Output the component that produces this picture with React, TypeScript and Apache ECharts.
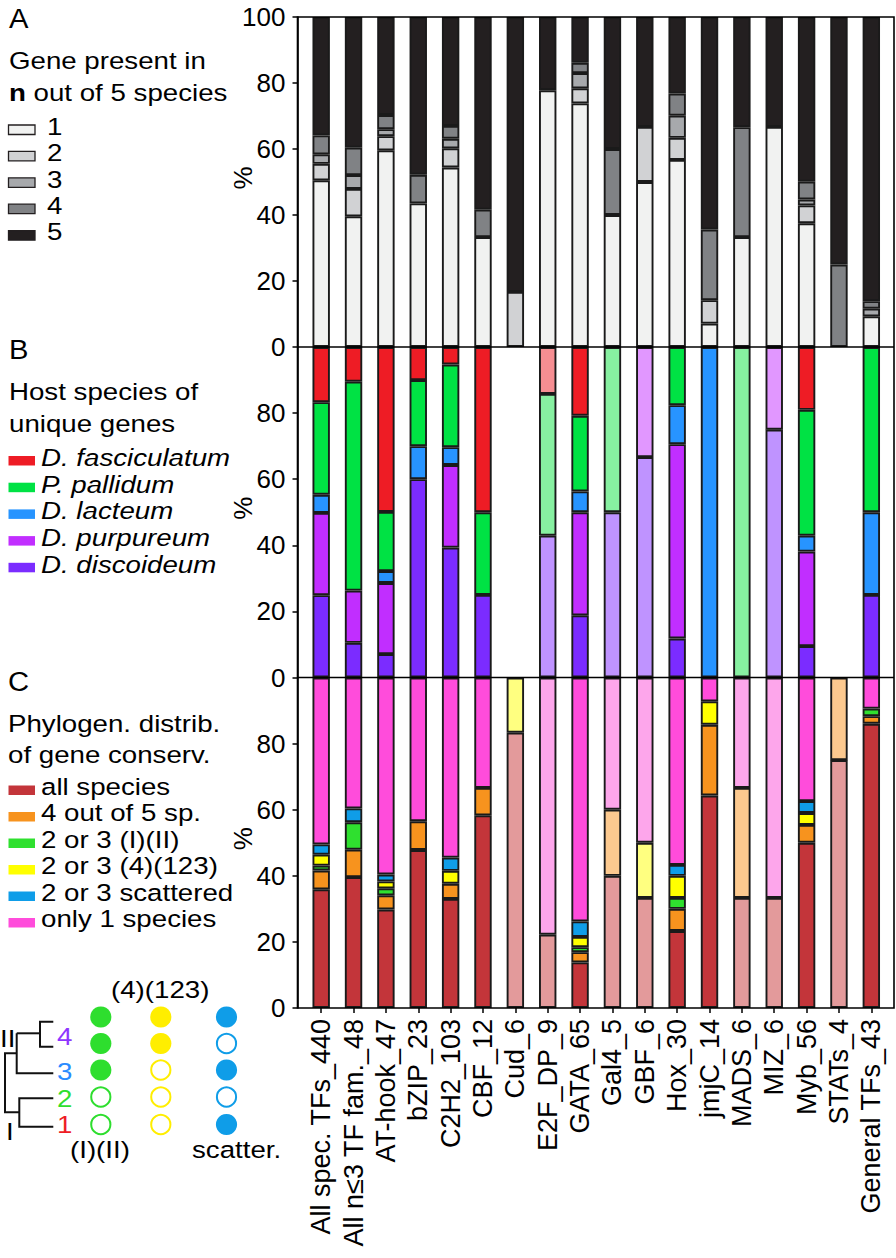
import React, { useEffect, useRef } from "react";
import * as echarts from "echarts";

// ---------------- DATA ----------------
const categories = [
  "All spec. TFs_440", "All n≤3 TF fam._48", "AT-hook_47", "bZIP_23", "C2H2_103", "CBF_12",
  "Cud_6", "E2F_DP_9", "GATA_65", "Gal4_5", "GBF_6", "Hox_30", "jmjC_14", "MADS_6",
  "MIZ_6", "Myb_56", "STATs_4", "General TFs_43",
];
// families drawn in pale colours (few members)
const smallFamily = [false, false, false, false, false, false, true, true, false, true, true, false, false, true, true, false, true, false];

// Panel A: gene present in n out of 5 species (%)
const presentIn1 = [50.5, 39.6, 59.6, 43.5, 54.4, 33.3, 0, 77.8, 73.8, 40, 50, 56.7, 7.1, 33.3, 66.7, 37.5, 0, 9.3];
const presentIn2 = [5.0, 8.3, 4.3, 0, 5.8, 0, 16.7, 0, 4.6, 0, 16.7, 6.7, 7.1, 0, 0, 5.4, 0, 0];
const presentIn3 = [2.9, 4.2, 2.1, 0, 2.9, 0, 0, 0, 4.6, 0, 0, 6.7, 0, 0, 0, 1.8, 0, 2.3];
const presentIn4 = [5.7, 8.3, 4.3, 8.7, 3.9, 8.3, 0, 0, 3.1, 20, 0, 6.7, 21.4, 33.3, 0, 5.4, 25, 2.3];
const presentIn5 = [35.9, 39.6, 29.7, 47.8, 33.0, 58.4, 83.3, 22.2, 13.9, 40, 33.3, 23.2, 64.4, 33.4, 33.3, 49.9, 75, 86.1];

// Panel B: host species of unique genes (%)
const dDiscoideum = [24.9, 10.5, 7.1, 60, 39.3, 25, 0, 42.9, 18.8, 50, 66.7, 11.8, 0, 0, 75, 9.5, 0, 25];
const dPurpureum = [24.9, 15.8, 21.5, 0, 25.0, 0, 0, 0, 31.2, 0, 33.3, 58.8, 0, 0, 25, 28.6, 0, 0];
const dLacteum = [5.5, 0, 3.6, 10, 5.4, 0, 0, 0, 6.3, 0, 0, 11.8, 100, 0, 0, 4.8, 0, 25];
const pPallidum = [28.0, 63.2, 17.9, 20, 25.0, 25, 0, 42.9, 22.9, 50, 0, 17.6, 0, 100, 0, 38.1, 0, 50];
const dFasciculatum = [16.7, 10.5, 49.9, 10, 5.3, 50, 0, 14.2, 20.8, 0, 0, 0, 0, 0, 0, 19.0, 0, 0];

// Panel C: phylogenetic distribution of gene conservation (%)
const allSpecies = [35.9, 39.6, 29.8, 47.8, 33.0, 58.3, 83.3, 22.2, 13.8, 40, 33.3, 23.3, 64.3, 33.3, 33.3, 50, 75, 86.0];
const fourOfFive = [5.7, 8.3, 4.3, 8.7, 4.6, 8.3, 0, 0, 3.1, 20, 0, 6.7, 21.4, 33.3, 0, 5.4, 25, 2.3];
const twoThreeI_II = [1.5, 8.3, 2.1, 0, 0, 0, 0, 0, 1.5, 0, 0, 3.3, 0, 0, 0, 0, 0, 2.3];
const twoThree4_123 = [3.3, 0, 2.1, 0, 3.9, 0, 16.7, 0, 3.1, 0, 16.7, 6.7, 7.1, 0, 0, 3.6, 0, 0];
const twoThreeScattered = [3.1, 4.2, 2.1, 0, 4.0, 0, 0, 0, 4.7, 0, 0, 3.3, 0, 0, 0, 3.6, 0, 0];
const onlyOne = [50.5, 39.6, 59.6, 43.5, 54.5, 33.4, 0, 77.8, 73.8, 40, 50, 56.7, 7.2, 33.4, 66.7, 37.4, 0, 9.4];

const yTicks = [0, 20, 40, 60, 80, 100];

const legendATitle = ["Gene present in", "{b|n} out of 5 species"];
const legendALabels = ["1", "2", "3", "4", "5"];
const legendBTitle = ["Host species of", "unique genes"];
const legendBLabels = ["D. fasciculatum", "P. pallidum", "D. lacteum", "D. purpureum", "D. discoideum"];
const legendCTitle = ["Phylogen. distrib.", "of gene conserv."];
const legendCLabels = ["all species", "4 out of 5 sp.", "2 or 3 (I)(II)", "2 or 3 (4)(123)", "2 or 3 scattered", "only 1 species"];

// phylogeny key: species rows (top to bottom) and which are included per pattern
const treeLeaves = ["4", "", "3", "2", "1"];
const patternI_II = [1, 1, 1, 0, 0];
const pattern4_123 = [1, 1, 0, 0, 0];
const patternScatter = [1, 0, 1, 0, 1];

// ---------------- STYLE ----------------
const FONT = "'Liberation Sans', Arial, Helvetica, sans-serif";
const colA = ["#f1f2f1", "#d1d2d4", "#a7a9ac", "#808285", "#231f20"];
const colB = ["#ee1c25", "#00e244", "#2794ff", "#c12eff", "#7b2cff"]; // fasc, pall, lact, purp, disc
const colBLight = ["#f68e92", "#87f0a1", "#93c9ff", "#e197ff", "#bf93ff"];
const colC = ["#c3353a", "#f7931e", "#2fe02f", "#ffff00", "#0f9de8", "#ff4cdb"];
const colCLight = ["#e39a9b", "#fcc98f", "#97ef97", "#ffff80", "#87cef3", "#fda6eb"];

const PANEL_TOP = [17, 347, 677.5];
const PANEL_H = [330, 330.5, 330.5];
const FRAME_L = 297.5;
const FRAME_R = 894;
const TXT_FS = 24.5;
const TXT_SX = 1.13;

function seriesFor(values: number[], color: string, light: string | null, grid: number, name: string) {
  return {
    type: "bar",
    name,
    xAxisIndex: grid,
    yAxisIndex: grid,
    stack: "s" + grid,
    barWidth: 17.4,
    silent: true,
    itemStyle: { color, borderColor: "#1a1a1a", borderWidth: 1.9 },
    data: values.map((v, i) =>
      v === 0 ? "-" : light && smallFamily[i] ? { value: v, itemStyle: { color: light } } : v
    ),
  };
}

function text(t: string, x: number, baseline: number, extra: any = {}, fs = TXT_FS, sx = TXT_SX) {
  return {
    type: "text",
    x,
    y: baseline - 0.35 * fs,
    scaleX: sx,
    silent: true,
    style: {
      text: t,
      fontSize: fs,
      fontFamily: FONT,
      fill: "#000",
      align: "left",
      verticalAlign: "middle",
      rich: { b: { fontWeight: "bold", fontSize: fs, fontFamily: FONT } },
      ...extra,
    },
  };
}

function buildGraphics() {
  const g: any[] = [];
  // frame
  g.push({
    type: "rect",
    silent: true,
    z: 100,
    shape: { x: FRAME_L, y: PANEL_TOP[0], width: FRAME_R - FRAME_L, height: 1008 - PANEL_TOP[0] },
    style: { fill: "none", stroke: "#000", lineWidth: 1.6 },
  });
  [PANEL_TOP[1], PANEL_TOP[2]].forEach((y) =>
    g.push({ type: "line", silent: true, z: 100, shape: { x1: FRAME_L, y1: y, x2: FRAME_R, y2: y }, style: { stroke: "#000", lineWidth: 1.6 } })
  );

  // panel letters
  g.push(text("A", 9, 28, {}, 27, 1.08));
  g.push(text("B", 9, 359, {}, 27, 1.08));
  g.push(text("C", 8, 691, {}, 27, 1.08));

  // Legend A
  legendATitle.forEach((t, i) => g.push(text(t, 9, 69 + 32 * i)));
  legendALabels.forEach((t, i) => {
    const b = 135 + 26.4 * i;
    g.push({ type: "rect", silent: true, shape: { x: 8.5, y: b - 10, width: 26.5, height: 9.5 }, style: { fill: colA[i], stroke: "#231f20", lineWidth: 1.3 } });
    g.push(text(t, 47, b));
  });

  // Legend B
  legendBTitle.forEach((t, i) => g.push(text(t, 9, 400 + 32 * i)));
  legendBLabels.forEach((t, i) => {
    const b = 466 + 26.7 * i;
    g.push({ type: "rect", silent: true, shape: { x: 8.5, y: b - 10, width: 26.5, height: 9.5 }, style: { fill: colB[i] } });
    g.push(text(t, 41, b, { fontStyle: "italic" }));
  });

  // Legend C
  legendCTitle.forEach((t, i) => g.push(text(t, 8, 731.7 + 31 * i)));
  legendCLabels.forEach((t, i) => {
    const b = 795 + 26.5 * i;
    g.push({ type: "rect", silent: true, shape: { x: 8.5, y: b - 9.5, width: 26.5, height: 9.5 }, style: { fill: colC[i] } });
    g.push(text(t, 41, b));
  });

  // Phylogeny key
  const rowsY = [1017, 1043.5, 1070, 1097, 1124.5];
  const cols = [
    { x: 100.8, pat: patternI_II, color: "#2ede2e" },
    { x: 160.8, pat: pattern4_123, color: "#ffee00" },
    { x: 226.5, pat: patternScatter, color: "#0f9de8" },
  ];
  cols.forEach((c) =>
    c.pat.forEach((p, i) =>
      g.push({
        type: "circle",
        silent: true,
        shape: { cx: c.x, cy: rowsY[i], r: p ? 10.6 : 9.6 },
        style: p ? { fill: c.color } : { fill: "none", stroke: c.color, lineWidth: 2 },
      })
    )
  );
  const lineStyle = { stroke: "#111", lineWidth: 2, fill: "none" };
  const segs: number[][][] = [
    [[53.3, 1021.7], [40, 1021.7], [40, 1046.7], [53.3, 1046.7]],
    [[40, 1033.3], [16.7, 1033.3]],
    [[16.7, 1033.3], [16.7, 1073.3], [53.3, 1073.3]],
    [[16.7, 1053.3], [5, 1053.3], [5, 1112.3], [19.3, 1112.3]],
    [[53.3, 1098.3], [19.3, 1098.3], [19.3, 1126.7], [53.3, 1126.7]],
  ];
  segs.forEach((pts) => g.push({ type: "polyline", silent: true, shape: { points: pts }, style: lineStyle }));
  const leafColors = ["#8e36ff", "", "#2a8cff", "#2ede2e", "#ee1c25"];
  const leafBase = [1045, 0, 1080, 1106.7, 1133.5];
  treeLeaves.forEach((t, i) => {
    if (t) g.push(text(t, 57, leafBase[i], { fill: leafColors[i] }));
  });
  g.push(text("II", 0, 1047));
  g.push(text("I", 6, 1140));
  g.push(text("(4)(123)", 111, 998.5));
  g.push(text("(I)(II)", 70, 1158));
  g.push(text("scatter.", 192, 1158));
  return g;
}

function buildOption() {
  const grids = PANEL_TOP.map((t, i) => ({ left: 305, right: 8.5, top: t, height: PANEL_H[i] }));
  const xAxes = [0, 1, 2].map((i) => ({
    type: "category",
    gridIndex: i,
    data: categories,
    axisLine: { show: false },
    axisTick: { show: true, alignWithLabel: true, length: i === 2 ? 5 : 4, lineStyle: { color: "#000", width: 1.5 } },
    axisLabel:
      i === 2
        ? { show: true, interval: 0, rotate: 90, fontSize: 27, fontFamily: FONT, color: "#000", margin: 11 }
        : { show: false },
    splitLine: { show: false },
  }));
  const yAxes = [0, 1, 2].map((i) => ({
    type: "value",
    gridIndex: i,
    min: yTicks[0],
    max: yTicks[yTicks.length - 1],
    interval: yTicks[1] - yTicks[0],
    offset: 7.5,
    axisLine: { show: true, lineStyle: { color: "#000", width: 1.6 } },
    axisTick: { show: true, length: 5, lineStyle: { color: "#000", width: 1.5 } },
    axisLabel: { fontSize: 26, fontFamily: FONT, color: "#000", margin: 12, showMaxLabel: i === 0 },
    splitLine: { show: false },
    name: "%",
    nameLocation: "middle",
    nameRotate: 90,
    nameGap: 42,
    nameMoveOverlap: false,
    nameTextStyle: { fontSize: 26, fontFamily: FONT, color: "#000", padding: [0, 0, 0, 8] },
  }));

  const series = [
    seriesFor(presentIn1, colA[0], null, 0, "1"),
    seriesFor(presentIn2, colA[1], null, 0, "2"),
    seriesFor(presentIn3, colA[2], null, 0, "3"),
    seriesFor(presentIn4, colA[3], null, 0, "4"),
    seriesFor(presentIn5, colA[4], null, 0, "5"),
    seriesFor(dDiscoideum, colB[4], colBLight[4], 1, "D. discoideum"),
    seriesFor(dPurpureum, colB[3], colBLight[3], 1, "D. purpureum"),
    seriesFor(dLacteum, colB[2], colBLight[2], 1, "D. lacteum"),
    seriesFor(pPallidum, colB[1], colBLight[1], 1, "P. pallidum"),
    seriesFor(dFasciculatum, colB[0], colBLight[0], 1, "D. fasciculatum"),
    seriesFor(allSpecies, colC[0], colCLight[0], 2, "all species"),
    seriesFor(fourOfFive, colC[1], colCLight[1], 2, "4 out of 5 sp."),
    seriesFor(twoThreeI_II, colC[2], colCLight[2], 2, "2 or 3 (I)(II)"),
    seriesFor(twoThree4_123, colC[3], colCLight[3], 2, "2 or 3 (4)(123)"),
    seriesFor(twoThreeScattered, colC[4], colCLight[4], 2, "2 or 3 scattered"),
    seriesFor(onlyOne, colC[5], colCLight[5], 2, "only 1 species"),
  ];

  return {
    animation: false,
    backgroundColor: "#ffffff",
    textStyle: { fontFamily: FONT },
    grid: grids,
    xAxis: xAxes,
    yAxis: yAxes,
    series,
    graphic: buildGraphics(),
  };
}

export default function App() {
  const ref = useRef<HTMLDivElement>(null);
  useEffect(() => {
    if (!ref.current) return;
    const chart = echarts.init(ref.current, null, { renderer: "svg" });
    chart.setOption(buildOption() as any);
    return () => chart.dispose();
  }, []);
  return <div ref={ref} style={{ position: "absolute", left: 0, top: 0, width: 896, height: 1258, background: "#fff" }} />;
}
